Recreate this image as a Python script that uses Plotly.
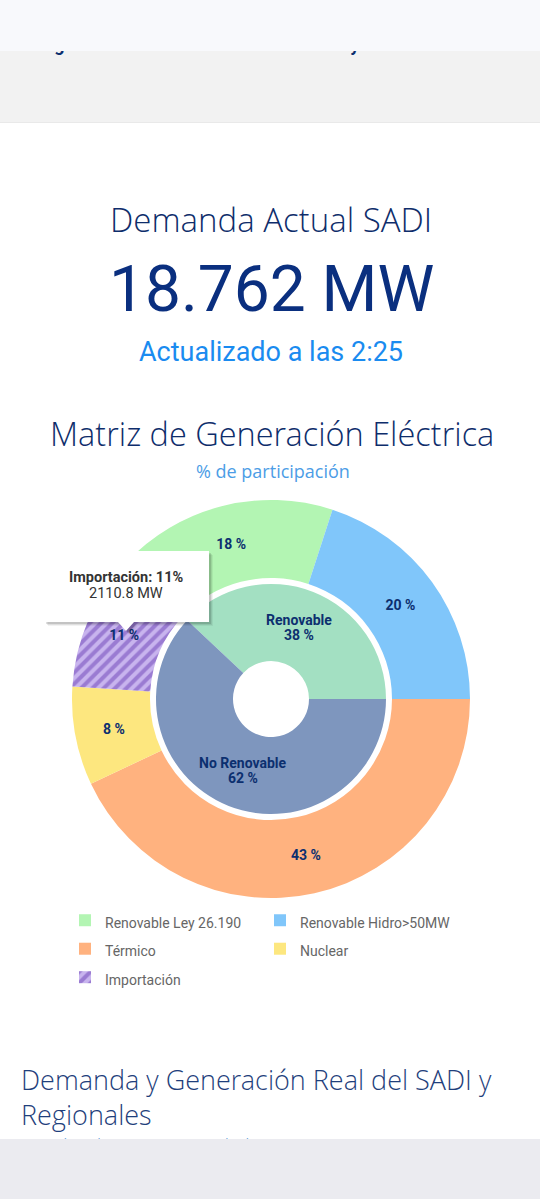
import math
import plotly.graph_objects as go

# ---------------- data ----------------
demand_mw = 18762
update_time = "2:25"
outer_labels = ["Renovable Ley 26.190", "Renovable Hidro>50MW", "Térmico", "Nuclear", "Importación"]
outer_values = [18, 20, 43, 8, 11]
outer_colors = ["#b3f5b3", "#80c6fa", "#ffb27f", "#fde77f", "#c8b4ee"]
outer_patterns = ["", "", "", "", "/"]
inner_labels = ["Renovable", "No Renovable"]
inner_values = [38, 62]
inner_colors = ["#a3e0c2", "#7e96be"]
tooltip_label = "Importación"
tooltip_share = 11
tooltip_mw = 2110.8

W, H = 540, 1199
NAVY = "#0c2f6f"
LIGHT = "Open Sans Light, Open Sans"


def py(v):
    return 1 - v / H


# rotation so the "Renovable" block ends at 3 o'clock
rotation = 90 - inner_values[0] / sum(inner_values) * 360

fig = go.Figure()

# outer ring
cx, cy, R = 271, 699, 199
fig.add_trace(go.Pie(
    labels=[f'<span style="font-size:14px">{l}</span>' for l in outer_labels],
    values=outer_values, sort=False, direction="clockwise",
    rotation=rotation, hole=121 / 199,
    domain=dict(x=[(cx - R) / W, (cx + R) / W], y=[py(cy + R), py(cy - R)]),
    marker=dict(colors=outer_colors, line=dict(width=0),
                pattern=dict(shape=outer_patterns, fgcolor="#9a7bd2", bgcolor=outer_colors,
                             fgopacity=1, size=8, solidity=0.5)),
    texttemplate="%{value} %", textposition="inside", insidetextorientation="horizontal",
    textfont=dict(family="Roboto", size=14, color=NAVY, weight="bold"),
    hoverinfo="skip", showlegend=True,
))

# inner ring
r2, rh = 115, 38
fig.add_trace(go.Pie(
    labels=inner_labels, values=inner_values, sort=False, direction="clockwise",
    rotation=rotation, hole=rh / r2,
    domain=dict(x=[(cx - r2) / W, (cx + r2) / W], y=[py(cy + r2), py(cy - r2)]),
    marker=dict(colors=inner_colors, line=dict(width=0)),
    textinfo="none", hoverinfo="skip", showlegend=False,
))

# clipped text fragments (header text hidden under fixed bar, footer subtitle)
fig.add_trace(go.Scatter(
    x=[33, 19], y=[46, 1145], mode="text",
    text=["<b>Reglas Para la Normalización del MEM y su Actualización</b>",
          "Demanda Real [MW] y Temp. Promedio de GBA - Hoy [°C]"],
    textposition=["middle right", "middle right"],
    textfont=dict(family=["Roboto", "Open Sans"], size=[18, 12], color=[NAVY, "#5b9bd8"]),
    cliponaxis=True, hoverinfo="skip", showlegend=False,
))

shapes = [
    dict(type="rect", xref="paper", yref="paper", x0=0, x1=1, y0=py(51), y1=1,
         fillcolor="#f8f9fc", line=dict(width=0), layer="below"),
    dict(type="rect", xref="paper", yref="paper", x0=0, x1=1, y0=py(122), y1=py(51),
         fillcolor="#f2f2f2", line=dict(width=0), layer="below"),
    dict(type="rect", xref="paper", yref="paper", x0=0, x1=1, y0=py(123), y1=py(122),
         fillcolor="#e9e9e9", line=dict(width=0), layer="below"),
    dict(type="rect", xref="paper", yref="paper", x0=0, x1=1, y0=0, y1=py(1139),
         fillcolor="#ebebf0", line=dict(width=0), layer="above"),
]


def path(pts):
    return "M" + " L".join(f"{x / W:.5f},{py(y):.5f}" for x, y in pts) + " Z"


box = [(44, 551), (209, 551), (209, 622), (134, 622), (126, 631), (118, 622), (44, 622)]
for off, op in [(4, 0.05), (3, 0.08), (2, 0.12)]:
    shapes.append(dict(type="path", xref="paper", yref="paper",
                       path=path([(x + off, y + off) for x, y in box]),
                       fillcolor=f"rgba(0,0,0,{op})", line=dict(width=0), layer="above"))
shapes.append(dict(type="path", xref="paper", yref="paper", path=path(box),
                   fillcolor="white", line=dict(width=0), layer="above"))

annotations = [
    dict(text="Demanda Actual SADI", x=271, y=219, font=dict(family=LIGHT, size=33, color="#0e2d6b", weight=300)),
    dict(text=f"{demand_mw:,}".replace(",", ".") + " MW", x=271, y=289,
         font=dict(family="Roboto", size=64, color="#0a2f7f")),
    dict(text=f"Actualizado a las {update_time}", x=271, y=352,
         font=dict(family="Roboto", size=27, color="#1a8bf0")),
    dict(text="Matriz de Generación Eléctrica", x=272, y=433,
         font=dict(family=LIGHT, size=32.5, color="#0e2d6b", weight=300)),
    dict(text="% de participación", x=273, y=471,
         font=dict(family="Open Sans", size=18, color="#4c9de6")),
    dict(text=f"<b>{tooltip_label}: {tooltip_share}%</b>", x=126, y=577.5,
         font=dict(family="Roboto", size=14.5, color="#333333")),
    dict(text=f"{tooltip_mw:.1f} MW", x=126, y=593.5,
         font=dict(family="Roboto", size=14.5, color="#333333")),
    dict(text="Demanda y Generación Real del SADI y<br>Regionales", x=19, y=1097, xanchor="left",
         align="left", font=dict(family=LIGHT, size=27, color="#1f3f7c", weight=300)),
]

# inner ring labels at the middle of each slice
acc = 0
tot = sum(inner_values)
rm = (r2 + rh) / 2
for lab, v in zip(inner_labels, inner_values):
    a = math.radians(rotation + (acc + v / 2) / tot * 360)
    acc += v
    x = cx + rm * math.sin(a)
    y = cy - rm * math.cos(a)
    annotations.append(dict(text=f"<b>{lab}</b>", x=x, y=y - 7.5,
                            font=dict(family="Roboto", size=14, color=NAVY)))
    annotations.append(dict(text=f"<b>{v} %</b>", x=x, y=y + 7.5,
                            font=dict(family="Roboto", size=14, color=NAVY)))

for a in annotations:
    a.setdefault("xanchor", "center")
    a.update(xref="x", yref="y", yanchor="middle", showarrow=False)

fig.update_layout(
    width=W, height=H, margin=dict(l=0, r=0, t=0, b=0),
    paper_bgcolor="white", plot_bgcolor="rgba(0,0,0,0)",
    xaxis=dict(range=[0, W], visible=False, fixedrange=True, domain=[0, 1]),
    yaxis=dict(range=[1139, 51], visible=False, fixedrange=True, domain=[py(1139), py(51)]),
    shapes=shapes, annotations=annotations,
    legend=dict(orientation="h", x=65 / W, xanchor="left", y=py(901), yanchor="top",
                entrywidth=150, font=dict(family="Roboto", size=19.6, color="#666666"),
                bgcolor="rgba(0,0,0,0)", traceorder="normal"),
    font=dict(family="Roboto"),
    hovermode=False,
)

fig.write_html("out.html")
